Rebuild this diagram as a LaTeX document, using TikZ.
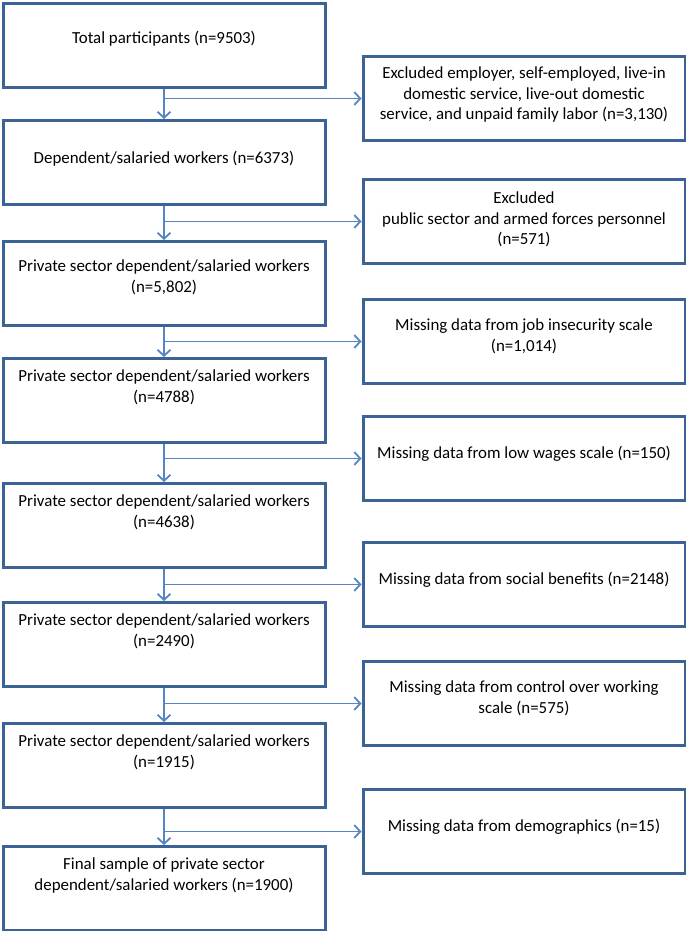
\documentclass[tikz,border=0pt]{standalone}
\usepackage{fontspec}
\setmainfont{Carlito}
\usetikzlibrary{arrows.meta}
\definecolor{boxblue}{HTML}{3B6396}
\definecolor{arrowblue}{HTML}{5585C5}
\newcommand{\boxtext}[2]{\parbox[c][84pt][c]{322pt}{\centering #2\par\vspace*{#1pt}}}
\tikzset{
  flowbox/.style={draw=boxblue, line width=3pt, fill=white, inner sep=0pt, anchor=north west,
    font=\fontsize{16.9}{20.6}\selectfont},
  flowarrow/.style={draw=arrowblue, line width=1.8pt, -{Straight Barb[length=6pt,width=13pt]}}
}
\begin{document}
\begin{tikzpicture}[x=1pt,y=-1pt]
\useasboundingbox (0,0) rectangle (685,931);
\node[flowbox] (L1) at (1.5,2) {\boxtext{14}{Total participants (n=9503)}};
\node[flowbox] (L2) at (1.5,119) {\boxtext{8}{Dependent/salaried workers (n=6373)}};
\node[flowbox] (L3) at (1.5,240) {\boxtext{12}{Private sector dependent/salaried workers\\(n=5,802)}};
\node[flowbox] (L4) at (1.5,357) {\boxtext{26}{Private sector dependent/salaried workers\\(n=4788)}};
\node[flowbox] (L5) at (1.5,482) {\boxtext{26}{Private sector dependent/salaried workers\\(n=4638)}};
\node[flowbox] (L6) at (1.5,601) {\boxtext{26}{Private sector dependent/salaried workers\\(n=2490)}};
\node[flowbox] (L7) at (1.5,722) {\boxtext{26}{Private sector dependent/salaried workers\\(n=1915)}};
\node[flowbox] (L8) at (1.5,845) {\boxtext{26}{Final sample of private sector\\dependent/salaried workers (n=1900)}};

\node[flowbox] (R1) at (361.5,55) {\boxtext{8}{Excluded employer, self-employed, live-in\\domestic service, live-out domestic\\service, and unpaid family labor (n=3,130)}};
\node[flowbox] (R2) at (361.5,178) {\boxtext{4}{Excluded\\public sector and armed forces personnel\\(n=571)}};
\node[flowbox] (R3) at (361.5,298) {\boxtext{10}{Missing data from job insecurity scale\\(n=1,014)}};
\node[flowbox] (R4) at (361.5,415) {\boxtext{10}{Missing data from low wages scale (n=150)}};
\node[flowbox] (R5) at (361.5,541) {\boxtext{10}{Missing data from social benefits (n=2148)}};
\node[flowbox] (R6) at (361.5,660) {\boxtext{10}{Missing data from control over working\\scale (n=575)}};
\node[flowbox] (R7) at (361.5,788) {\boxtext{10}{Missing data from demographics (n=15)}};

\draw[flowarrow] (L1.south) -- (L2.north);
\draw[flowarrow] (L2.south) -- (L3.north);
\draw[flowarrow] (L3.south) -- (L4.north);
\draw[flowarrow] (L4.south) -- (L5.north);
\draw[flowarrow] (L5.south) -- (L6.north);
\draw[flowarrow] (L6.south) -- (L7.north);
\draw[flowarrow] (L7.south) -- (L8.north);

\draw[flowarrow] (L1.south |- R1.west) -- (R1.west);
\draw[flowarrow] (L2.south |- R2.west) -- (R2.west);
\draw[flowarrow] (L3.south |- R3.west) -- (R3.west);
\draw[flowarrow] (L4.south |- R4.west) -- (R4.west);
\draw[flowarrow] (L5.south |- R5.west) -- (R5.west);
\draw[flowarrow] (L6.south |- R6.west) -- (R6.west);
\draw[flowarrow] (L7.south |- R7.west) -- (R7.west);
\end{tikzpicture}
\end{document}
